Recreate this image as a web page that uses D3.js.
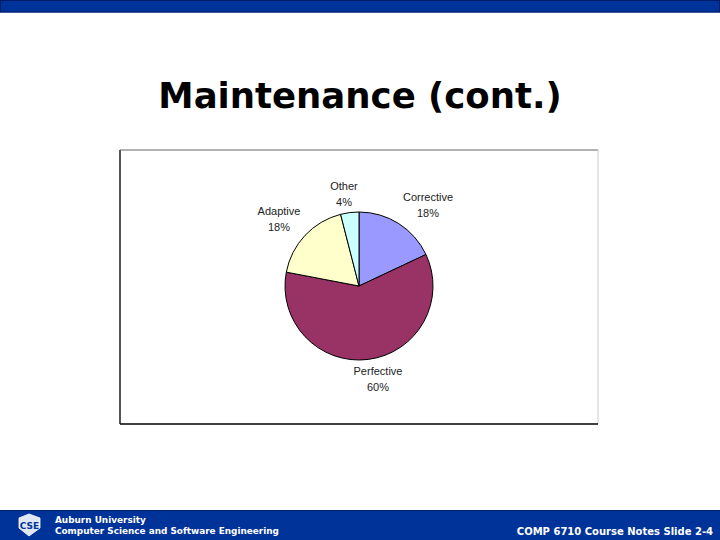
<!DOCTYPE html>
<html><head><meta charset="utf-8">
<script src="https://cdn.jsdelivr.net/npm/d3@7/dist/d3.min.js"></script>
<style>body{margin:0;background:#fff}svg{display:block}</style>
</head><body>
<script>
const categories = ["Corrective", "Perfective", "Adaptive", "Other"];
const values = [18, 60, 18, 4];
const colors = ["#9999FF", "#993366", "#FFFFCC", "#CCFFFF"];

const W = 720, H = 540;
const svg = d3.select("body").append("svg").attr("width", W).attr("height", H);

// top bar
svg.append("rect").attr("x",0).attr("y",0).attr("width",W).attr("height",12.5).attr("fill","#003399");
svg.append("rect").attr("x",0.5).attr("y",0.5).attr("width",W-1).attr("height",11.5).attr("fill","none").attr("stroke","#001a66").attr("stroke-width",1);

// title
svg.append("text").attr("x",360).attr("y",108).attr("text-anchor","middle")
  .attr("font-family","DejaVu Sans, Verdana, sans-serif").attr("font-weight","bold")
  .attr("font-size",35.5).attr("fill","#000").text("Maintenance (cont.)");

// chart box
const bx=120, by=150, bw=478, bh=274;
svg.append("rect").attr("x",bx).attr("y",by).attr("width",bw).attr("height",bh).attr("fill","#fff");
svg.append("line").attr("x1",bx).attr("y1",by).attr("x2",bx+bw).attr("y2",by).attr("stroke","#999").attr("stroke-width",1.5);
svg.append("line").attr("x1",bx+bw).attr("y1",by).attr("x2",bx+bw).attr("y2",by+bh).attr("stroke","#ccc").attr("stroke-width",1);
svg.append("line").attr("x1",bx).attr("y1",by).attr("x2",bx).attr("y2",by+bh).attr("stroke","#555").attr("stroke-width",2);
svg.append("line").attr("x1",bx).attr("y1",by+bh).attr("x2",bx+bw).attr("y2",by+bh).attr("stroke","#000").attr("stroke-width",1.5);

// pie
const cx=359, cy=286, r=74;
const data = categories.map((c,i)=>({cat:c, val:values[i], col:colors[i]}));
const pie = d3.pie().value(d=>d.val).sort(null);
const arc = d3.arc().innerRadius(0).outerRadius(r);
const g = svg.append("g").attr("transform",`translate(${cx},${cy})`);
const arcs = pie(data);
g.selectAll("path").data(arcs).join("path").attr("d",arc)
  .attr("fill",d=>d.data.col).attr("stroke","#000").attr("stroke-width",1);

// labels
const labelPos = {"Corrective":[428,201],"Perfective":[378,375],"Adaptive":[279,215],"Other":[344,190]};
const lg = svg.append("g").attr("font-family","Liberation Sans, Arial, sans-serif").attr("font-size",11).attr("fill","#222").attr("text-anchor","middle");
arcs.forEach(a=>{
  const p = labelPos[a.data.cat];
  const t = lg.append("text").attr("x",p[0]).attr("y",p[1]);
  t.append("tspan").attr("x",p[0]).text(a.data.cat);
  t.append("tspan").attr("x",p[0]).attr("dy",15.5).text(a.data.val+"%");
});

// bottom bar
svg.append("rect").attr("x",0).attr("y",510).attr("width",W).attr("height",30).attr("fill","#003399");
svg.append("line").attr("x1",0).attr("y1",510.5).attr("x2",W).attr("y2",510.5).attr("stroke","#001a66");

// logo
const logo = svg.append("g").attr("transform","translate(17,514)");
logo.append("path").attr("d","M2,4 L12,0 L23,4 L23,14 L12,22 L2,14 Z").attr("fill","#dfe6f5").attr("stroke","#fff").attr("stroke-width",0.8);
logo.append("text").attr("x",12.5).attr("y",15).attr("text-anchor","middle").attr("font-family","DejaVu Sans, sans-serif")
  .attr("font-weight","bold").attr("font-size",9).attr("fill","#003399").text("CSE");

const ft = svg.append("g").attr("font-family","DejaVu Sans, Verdana, sans-serif").attr("font-weight","bold").attr("font-size",8.9).attr("fill","#fff");
ft.append("text").attr("x",55).attr("y",523).text("Auburn University");
ft.append("text").attr("x",55).attr("y",534).text("Computer Science and Software Engineering");
ft.append("text").attr("x",713).attr("y",535).attr("text-anchor","end").attr("font-size",10).text("COMP 6710 Course Notes Slide 2-4");
</script>
</body></html>
